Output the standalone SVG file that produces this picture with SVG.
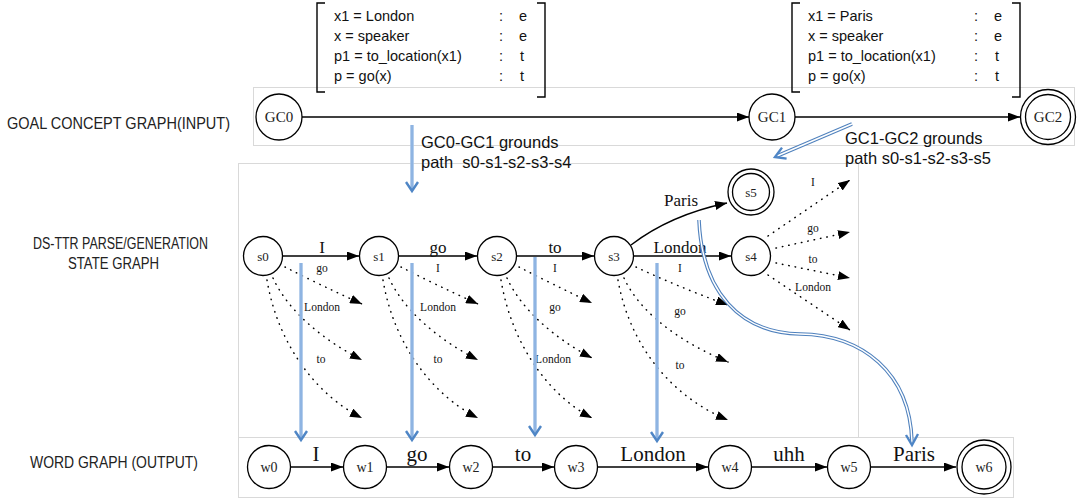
<svg xmlns="http://www.w3.org/2000/svg" width="1078" height="499" viewBox="0 0 1078 499">
<style>
.panel{fill:#fff;stroke:#d9d9d9;stroke-width:1}
.nd{fill:#fff;stroke:#000;stroke-width:1.3}
.nt{font-family:"Liberation Serif",serif;fill:#222;text-anchor:middle}
.el{font-family:"Liberation Serif",serif;fill:#111;text-anchor:middle}
.ss{font-family:"Liberation Sans",Arial,sans-serif;fill:#111}
.lab{font-family:"Liberation Sans",Arial,sans-serif;fill:#222;font-size:16px}
.edge{fill:none;stroke:#000;stroke-width:1.4;marker-end:url(#ah)}
.dot{fill:none;stroke:#000;stroke-width:1.5;stroke-dasharray:0.5 6;stroke-linecap:round;marker-end:url(#ah)}
.br{fill:none;stroke:#000;stroke-width:1.4}
.bo{fill:none;stroke:#a3c2e8;stroke-width:3.6}
.bi{fill:none;stroke:#7ba6dc;stroke-width:1}
.do{fill:none;stroke:#4f81bd;stroke-width:3.6}
.di{fill:none;stroke:#fff;stroke-width:1.4}
.ch{fill:none;stroke:#4f86c6;stroke-width:2.4}
</style>
<defs>
<marker id="ah" markerUnits="userSpaceOnUse" markerWidth="13" markerHeight="9" refX="12" refY="4.5" orient="auto">
<path d="M0,0 L12,4.5 L0,9 z" fill="#000"/>
</marker>
</defs>
<rect width="1078" height="499" fill="#fff"/>

<!-- panels -->
<rect class="panel" x="253.5" y="87.5" width="821" height="58"/>
<rect class="panel" x="238.5" y="163.5" width="620" height="274"/>
<rect class="panel" x="238.5" y="437.5" width="775" height="60"/>

<!-- row labels -->
<g id="row-labels">
<text class="lab" x="7" y="129" textLength="223" lengthAdjust="spacingAndGlyphs">GOAL CONCEPT GRAPH(INPUT)</text>
<text class="lab" x="33" y="249" textLength="175" lengthAdjust="spacingAndGlyphs">DS-TTR PARSE/GENERATION</text>
<text class="lab" x="68" y="269" textLength="91" lengthAdjust="spacingAndGlyphs">STATE GRAPH</text>
<text class="lab" x="30" y="468" textLength="168" lengthAdjust="spacingAndGlyphs">WORD GRAPH (OUTPUT)</text>
</g>

<!-- records -->
<g id="record1" class="ss" font-size="14.5">
<path class="br" d="M325,3 L317,3 L317,92 L325,92"/>
<path class="br" d="M537,3 L545,3 L545,97 L537,97"/>
<text x="334" y="21">x1 = London</text>
<text x="334" y="41">x = speaker</text>
<text x="334" y="61">p1 = to_location(x1)</text>
<text x="334" y="81">p = go(x)</text>
<text x="499" y="21">:</text><text x="519" y="21">e</text>
<text x="499" y="41">:</text><text x="519" y="41">e</text>
<text x="499" y="61">:</text><text x="520" y="61">t</text>
<text x="499" y="81">:</text><text x="520" y="81">t</text>
</g>
<g id="record2" class="ss" font-size="14.5">
<path class="br" d="M800,3 L792,3 L792,92 L800,92"/>
<path class="br" d="M1012,3 L1020,3 L1020,97 L1012,97"/>
<text x="808" y="21">x1 = Paris</text>
<text x="808" y="41">x = speaker</text>
<text x="808" y="61">p1 = to_location(x1)</text>
<text x="808" y="81">p = go(x)</text>
<text x="974" y="21">:</text><text x="994" y="21">e</text>
<text x="974" y="41">:</text><text x="994" y="41">e</text>
<text x="974" y="61">:</text><text x="995" y="61">t</text>
<text x="974" y="81">:</text><text x="995" y="81">t</text>
</g>

<!-- connectors -->
<g id="connectors">
<line class="edge" x1="302" y1="117" x2="749" y2="117"/>
<line class="edge" x1="795" y1="117" x2="1020" y2="117"/>
<line class="edge" x1="283" y1="256" x2="359" y2="256"/>
<line class="edge" x1="399" y1="256" x2="477" y2="256"/>
<line class="edge" x1="517" y1="256" x2="594" y2="256"/>
<line class="edge" x1="634" y1="256" x2="731" y2="256"/>
<path class="edge" d="M631,245 Q670,215 727,203"/>
<path class="dot" d="M285,267 Q320,285 362,304"/>
<path class="dot" d="M273,278 C288,311 323,340 362,360"/>
<path class="dot" d="M267,280 C278,346 318,396 362,418"/>
<path class="dot" d="M401,267 Q436,285 478,304"/>
<path class="dot" d="M389,278 C404,311 439,340 478,360"/>
<path class="dot" d="M383,280 C394,346 434,396 478,418"/>
<path class="dot" d="M519,267 Q552,284 592,303"/>
<path class="dot" d="M507,278 C521,309 554,338 592,358"/>
<path class="dot" d="M501,280 C512,346 550,396 592,418"/>
<path class="dot" d="M636,267 Q676,286 728,305"/>
<path class="dot" d="M624,278 C640,313 680,342 728,362"/>
<path class="dot" d="M618,280 C630,348 674,398 728,420"/>
<path class="dot" d="M768,236 L850,180"/>
<path class="dot" d="M776,248 L850,232"/>
<path class="dot" d="M776,263 L850,278"/>
<path class="dot" d="M768,275 L850,330"/>
<line class="edge" x1="291" y1="467" x2="343" y2="467"/>
<line class="edge" x1="387" y1="467" x2="449" y2="467"/>
<line class="edge" x1="493" y1="467" x2="554" y2="467"/>
<line class="edge" x1="598" y1="467" x2="708" y2="467"/>
<line class="edge" x1="752" y1="467" x2="827" y2="467"/>
<line class="edge" x1="871" y1="467" x2="956" y2="467"/>
</g>

<!-- edge labels -->
<g id="edge-labels">
<g class="el" font-size="17">
<text x="322" y="253">I</text>
<text x="438" y="253">go</text>
<text x="555" y="253">to</text>
<text x="680" y="253">London</text>
<text x="681" y="206">Paris</text>
</g>
<g class="el" font-size="11.5">
<text x="322" y="272">go</text>
<text x="322" y="311">London</text>
<text x="321" y="363">to</text>
<text x="438" y="272">I</text>
<text x="438" y="311">London</text>
<text x="438" y="363">to</text>
<text x="555" y="272">I</text>
<text x="555" y="311">go</text>
<text x="553" y="363">London</text>
<text x="680" y="272">I</text>
<text x="680" y="315">go</text>
<text x="680" y="369">to</text>
<text x="813" y="186">I</text>
<text x="813" y="232">go</text>
<text x="813" y="263">to</text>
<text x="813" y="291">London</text>
</g>
<g class="el" font-size="21">
<text x="316" y="461">I</text>
<text x="417" y="461">go</text>
<text x="523" y="461">to</text>
<text x="653" y="461">London</text>
<text x="789" y="461">uhh</text>
<text x="914" y="461">Paris</text>
</g>
</g>

<!-- nodes -->
<g id="GC0"><circle class="nd" cx="279" cy="117" r="23"/><text class="nt" x="279" y="122" font-size="15">GC0</text></g>
<g id="GC1"><circle class="nd" cx="772" cy="117" r="23"/><text class="nt" x="772" y="122" font-size="15">GC1</text></g>
<g id="GC2"><circle class="nd" cx="1048" cy="117" r="27.5"/><circle class="nd" cx="1048" cy="117" r="22.5"/><text class="nt" x="1048" y="122" font-size="15">GC2</text></g>

<g id="s0"><circle class="nd" cx="263" cy="256" r="19.5"/><text class="nt" x="263" y="261" font-size="13">s0</text></g>
<g id="s1"><circle class="nd" cx="379" cy="256" r="19.5"/><text class="nt" x="379" y="261" font-size="13">s1</text></g>
<g id="s2"><circle class="nd" cx="497" cy="256" r="19.5"/><text class="nt" x="497" y="261" font-size="13">s2</text></g>
<g id="s3"><circle class="nd" cx="614" cy="256" r="19.5"/><text class="nt" x="614" y="261" font-size="13">s3</text></g>
<g id="s4"><circle class="nd" cx="751" cy="256" r="19.5"/><text class="nt" x="751" y="261" font-size="13">s4</text></g>
<g id="s5"><circle class="nd" cx="751" cy="192" r="23"/><circle class="nd" cx="751" cy="192" r="18.5"/><text class="nt" x="751" y="197" font-size="13">s5</text></g>

<g id="w0"><circle class="nd" cx="269" cy="467" r="21.5"/><text class="nt" x="269" y="472" font-size="14">w0</text></g>
<g id="w1"><circle class="nd" cx="365" cy="467" r="21.5"/><text class="nt" x="365" y="472" font-size="14">w1</text></g>
<g id="w2"><circle class="nd" cx="471" cy="467" r="21.5"/><text class="nt" x="471" y="472" font-size="14">w2</text></g>
<g id="w3"><circle class="nd" cx="576" cy="467" r="21.5"/><text class="nt" x="576" y="472" font-size="14">w3</text></g>
<g id="w4"><circle class="nd" cx="730" cy="467" r="21.5"/><text class="nt" x="730" y="472" font-size="14">w4</text></g>
<g id="w5"><circle class="nd" cx="849" cy="467" r="21.5"/><text class="nt" x="849" y="472" font-size="14">w5</text></g>
<g id="w6"><circle class="nd" cx="984" cy="467" r="27"/><circle class="nd" cx="984" cy="467" r="22"/><text class="nt" x="984" y="472" font-size="14">w6</text></g>

<!-- grounding arrows -->
<g id="grounding">
<line class="bo" x1="412" y1="125" x2="412" y2="190"/><line class="bi" x1="412" y1="125" x2="412" y2="189"/>
<polyline class="ch" points="406,182 412,191 418,182"/>
<line class="bo" x1="301" y1="263" x2="301" y2="438"/><line class="bi" x1="301" y1="263" x2="301" y2="437"/>
<polyline class="ch" points="295,431 301,440 307,431"/>
<line class="bo" x1="412" y1="263" x2="412" y2="438"/><line class="bi" x1="412" y1="263" x2="412" y2="437"/>
<polyline class="ch" points="406,431 412,440 418,431"/>
<line class="bo" x1="535" y1="257" x2="535" y2="433"/><line class="bi" x1="535" y1="257" x2="535" y2="432"/>
<polyline class="ch" points="529,426 535,435 541,426"/>
<line class="bo" x1="657" y1="263" x2="657" y2="439"/><line class="bi" x1="657" y1="263" x2="657" y2="438"/>
<polyline class="ch" points="651,432 657,441 663,432"/>
<path class="do" d="M852,124 L777,156"/><path class="di" d="M852,124 L777,156"/>
<polyline class="ch" points="782,147.6 775,157 786.6,158.6"/>
<path class="do" d="M699,220 C702,292 740,333 800,334 C862,335 910,372 912,442"/>
<path class="di" d="M699,220 C702,292 740,333 800,334 C862,335 910,372 912,442"/>
<polyline class="ch" points="906,435 912,445 918,434"/>
<text class="ss" font-size="16.5" x="421" y="148">GC0-GC1 grounds</text>
<text class="ss" font-size="16.5" x="421" y="168" xml:space="preserve">path  s0-s1-s2-s3-s4</text>
<text class="ss" font-size="16.5" x="845" y="144">GC1-GC2 grounds</text>
<text class="ss" font-size="16.5" x="845" y="164">path s0-s1-s2-s3-s5</text>
</g>
</svg>
